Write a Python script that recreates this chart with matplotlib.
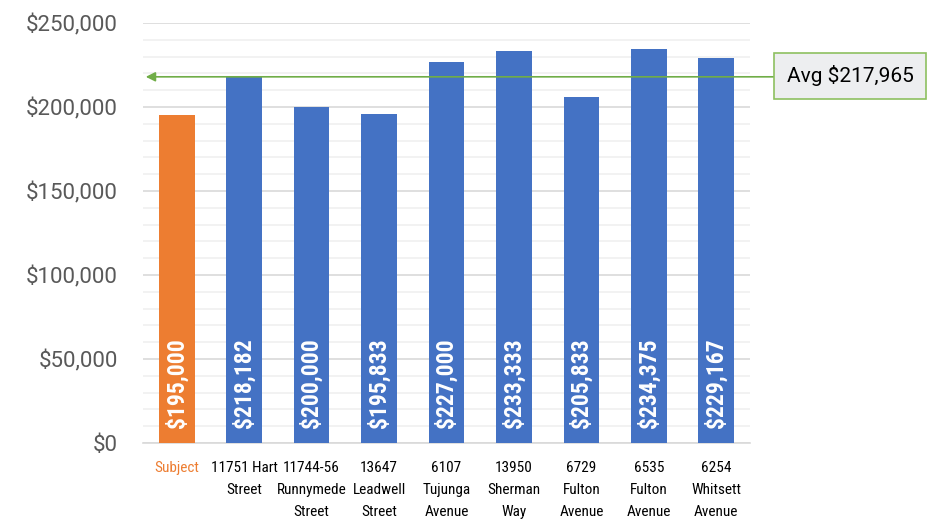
import matplotlib
matplotlib.use("Agg")
import matplotlib.pyplot as plt
from matplotlib import font_manager as fm
from matplotlib.ticker import FuncFormatter, MultipleLocator

names = sorted({f.name for f in fm.fontManager.ttflist})
cond = None
for cand in ["Roboto Condensed", "Liberation Sans Narrow", "DejaVu Sans Condensed", "Open Sans Condensed"]:
    if cand in names:
        cond = cand
        break

categories = ["Subject", "11751 Hart\nStreet", "11744-56\nRunnymede\nStreet",
              "13647\nLeadwell\nStreet", "6107\nTujunga\nAvenue", "13950\nSherman\nWay",
              "6729\nFulton\nAvenue", "6535\nFulton\nAvenue", "6254\nWhitsett\nAvenue"]
values = [195000, 218182, 200000, 195833, 227000, 233333, 205833, 234375, 229167]
average = 217965

orange = "#ED7D31"
blue = "#4472C4"
colors = [orange] + [blue] * (len(values) - 1)

fig = plt.figure(figsize=(9.3, 5.31), dpi=100)
ax = fig.add_axes([143 / 930, 1 - 443 / 531, (750 - 143) / 930, 420 / 531])

x = list(range(len(values)))
ax.bar(x, values, width=0.53, color=colors, zorder=3)

ax.set_ylim(0, 250000)
ax.set_xlim(-0.5, len(values) - 0.5)
ax.yaxis.set_major_locator(MultipleLocator(50000))
ax.yaxis.set_minor_locator(MultipleLocator(10000))
ax.yaxis.set_major_formatter(FuncFormatter(lambda v, p: "${:,.0f}".format(v)))
ax.grid(axis="y", which="major", color="#D9D9D9", lw=1.2, zorder=0)
ax.grid(axis="y", which="minor", color="#F0F0F0", lw=1.2, zorder=0)
for s in ["top", "right", "left"]:
    ax.spines[s].set_visible(False)
ax.spines["bottom"].set_color("#D9D9D9")
ax.spines["bottom"].set_linewidth(1.2)
ax.tick_params(axis="y", which="both", length=0, labelsize=16, labelcolor="#595959", pad=18)
for lab in ax.get_yticklabels():
    lab.set_family("Roboto")
ax.tick_params(axis="x", length=0, pad=13)

cfam = [cond] if cond else ["DejaVu Sans"]
ax.set_xticks(x)
ax.set_xticklabels(categories, fontsize=11, family=cfam, stretch="condensed",
                   linespacing=1.72, color="black")
ax.get_xticklabels()[0].set_color(orange)

for xi, v in zip(x, values):
    ax.text(xi, 8800, "${:,.0f}".format(v), rotation=90, ha="center", va="bottom",
            color="white", fontsize=17, fontweight="bold", family=cfam, stretch="condensed",
            zorder=4)

# average arrow and callout box
ax.annotate("", xy=(-0.5, average), xytext=(9.0, average),
            arrowprops=dict(arrowstyle="-|>", color="#70AD47", lw=1.2, mutation_scale=14),
            annotation_clip=False, zorder=5)
fig.text(850 / 930, 1 - 76 / 531, "Avg ${:,.0f}".format(average), ha="center", va="center",
         fontsize=15, color="black", family="Roboto",
         bbox=dict(boxstyle="square,pad=0.6", fc="#EDEEF0", ec="#8DC060", lw=1.2))

fig.savefig("out.png", dpi=100)
